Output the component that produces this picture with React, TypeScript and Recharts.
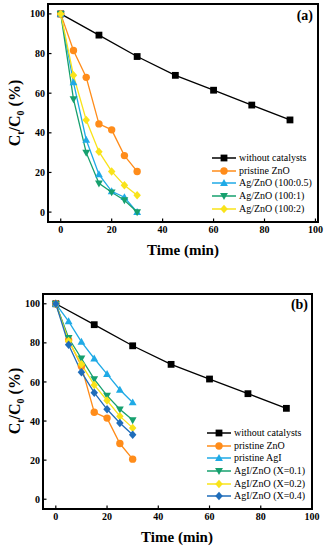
import React from "react";
import { LineChart, Line, XAxis, YAxis, ReferenceArea } from "recharts";

// time axes (min)
const TIME_LONG = [0, 15, 30, 45, 60, 75, 90];
const TIME_SHORT = [0, 5, 10, 15, 20, 25, 30];

// Ct/C0 (%) values
const NO_CATALYST = [100, 89.3, 78.5, 69, 61.5, 54, 46.5];
const PRISTINE_ZNO = [100, 81.5, 68, 44.5, 41.5, 28.5, 20.5];
const AG_ZNO_05 = [100, 65.5, 36.5, 19, 10.5, 7.5, 0];
const AG_ZNO_1 = [100, 57, 30, 14.5, 10, 6, 0];
const AG_ZNO_2 = [100, 69, 46.5, 30.5, 20.5, 13.5, 8.5];
const PRISTINE_AGI = [100, 91, 80.5, 72, 64, 56, 49.5];
const AGI_ZNO_01 = [100, 82.5, 72, 61.5, 53, 46, 40.5];
const AGI_ZNO_02 = [100, 81, 69, 58.5, 50.5, 42.5, 36.5];
const AGI_ZNO_04 = [100, 79, 65, 54.5, 46, 39, 33];

const X_TICKS = [0, 20, 40, 60, 80, 100];
const Y_TICKS = [0, 20, 40, 60, 80, 100];
const Y_DOMAIN: [number, number] = [-5, 105];

const BLACK = "#000000";
const ORANGE = "#FF8C1A";
const CYAN = "#1FAAE6";
const GREEN = "#16A06E";
const YELLOW = "#F9E31A";
const BLUE = "#1F6DBA";

const FONT = "'Liberation Serif', 'Times New Roman', serif";
const TICK_MARGIN_X = 4;
const TICK_MARGIN_Y = 3;

type Shape = "square" | "circle" | "up" | "down" | "diamond";

interface Series {
  name: string;
  color: string;
  shape: Shape;
  times: number[];
  values: number[];
}

const SERIES_A: Series[] = [
  { name: "without catalysts", color: BLACK, shape: "square", times: TIME_LONG, values: NO_CATALYST },
  { name: "pristine ZnO", color: ORANGE, shape: "circle", times: TIME_SHORT, values: PRISTINE_ZNO },
  { name: "Ag/ZnO (100:0.5)", color: CYAN, shape: "up", times: TIME_SHORT, values: AG_ZNO_05 },
  { name: "Ag/ZnO (100:1)", color: GREEN, shape: "down", times: TIME_SHORT, values: AG_ZNO_1 },
  { name: "Ag/ZnO (100:2)", color: YELLOW, shape: "diamond", times: TIME_SHORT, values: AG_ZNO_2 },
];

const SERIES_B: Series[] = [
  { name: "without catalysts", color: BLACK, shape: "square", times: TIME_LONG, values: NO_CATALYST },
  { name: "pristine ZnO", color: ORANGE, shape: "circle", times: TIME_SHORT, values: PRISTINE_ZNO },
  { name: "pristine AgI", color: CYAN, shape: "up", times: TIME_SHORT, values: PRISTINE_AGI },
  { name: "AgI/ZnO (X=0.1)", color: GREEN, shape: "down", times: TIME_SHORT, values: AGI_ZNO_01 },
  { name: "AgI/ZnO (X=0.2)", color: YELLOW, shape: "diamond", times: TIME_SHORT, values: AGI_ZNO_02 },
  { name: "AgI/ZnO (X=0.4)", color: BLUE, shape: "diamond", times: TIME_SHORT, values: AGI_ZNO_04 },
];

function Marker({ shape, cx, cy, color }: { shape: Shape; cx: number; cy: number; color: string }) {
  const s = 3.4;
  switch (shape) {
    case "square":
      return <rect x={cx - s} y={cy - s} width={2 * s} height={2 * s} fill={color} />;
    case "circle":
      return <circle cx={cx} cy={cy} r={s + 0.3} fill={color} />;
    case "up":
      return (
        <polygon
          points={`${cx},${cy - s * 1.2} ${cx + s * 1.15},${cy + s * 0.85} ${cx - s * 1.15},${cy + s * 0.85}`}
          fill={color}
        />
      );
    case "down":
      return (
        <polygon
          points={`${cx},${cy + s * 1.2} ${cx + s * 1.15},${cy - s * 0.85} ${cx - s * 1.15},${cy - s * 0.85}`}
          fill={color}
        />
      );
    default:
      return (
        <polygon
          points={`${cx},${cy - s * 1.25} ${cx + s * 1.1},${cy} ${cx},${cy + s * 1.25} ${cx - s * 1.1},${cy}`}
          fill={color}
        />
      );
  }
}

// inward tick mark + bold label
function XTick({ x, y, payload }: any) {
  const axisY = y - TICK_MARGIN_X;
  return (
    <g>
      <line x1={x} x2={x} y1={axisY} y2={axisY - 3.5} stroke="#000" strokeWidth={1.2} />
      <text x={x} y={y} dy="0.71em" textAnchor="middle" fontSize={10} fontWeight="bold" fill="#000" fontFamily={FONT}>
        {payload.value}
      </text>
    </g>
  );
}

function YTick({ x, y, payload }: any) {
  const axisX = x + TICK_MARGIN_Y;
  return (
    <g>
      <line x1={axisX} x2={axisX + 3.5} y1={y} y2={y} stroke="#000" strokeWidth={1.2} />
      <text x={x} y={y} dy="0.355em" textAnchor="end" fontSize={10} fontWeight="bold" fill="#000" fontFamily={FONT}>
        {payload.value}
      </text>
    </g>
  );
}

interface PanelProps {
  series: Series[];
  top: number;
  height: number;
  margin: { top: number; right: number; bottom: number; left: number };
  yAxisWidth: number;
  xAxisHeight: number;
  xDomain: [number, number];
  tag: string;
  tagRight: number;
  tagY: number;
  titleY: number;
  titleX: number;
  ylabelY: number;
  legendLeft: number;
  legendTop: number;
}

function Panel(p: PanelProps) {
  return (
    <>
      <div style={{ position: "absolute", left: 0, top: p.top }}>
        <LineChart width={327} height={p.height} margin={p.margin}>
          <XAxis
            dataKey="x"
            type="number"
            domain={p.xDomain}
            allowDataOverflow
            ticks={X_TICKS}
            interval={0}
            height={p.xAxisHeight}
            tickSize={0}
            tickMargin={TICK_MARGIN_X}
            tickLine={false}
            axisLine={false}
            tick={(t: any) => <XTick {...t} />}
          />
          <YAxis
            type="number"
            domain={Y_DOMAIN}
            allowDataOverflow
            ticks={Y_TICKS}
            interval={0}
            width={p.yAxisWidth}
            tickSize={0}
            tickMargin={TICK_MARGIN_Y}
            tickLine={false}
            axisLine={false}
            tick={(t: any) => <YTick {...t} />}
          />
          {/* plot frame */}
          <ReferenceArea
            x1={p.xDomain[0]}
            x2={p.xDomain[1]}
            y1={Y_DOMAIN[0]}
            y2={Y_DOMAIN[1]}
            fill="none"
            fillOpacity={0}
            stroke="#000"
            strokeWidth={2}
            ifOverflow="visible"
          />
          {p.series.map((s) => (
            <Line
              key={s.name}
              data={s.times.map((t, i) => ({ x: t, y: s.values[i] }))}
              dataKey="y"
              stroke={s.color}
              strokeWidth={1.3}
              isAnimationActive={false}
              dot={(d: any) => (
                <g key={`${s.name}-${d.index}`}>
                  <Marker shape={s.shape} cx={d.cx} cy={d.cy} color={s.color} />
                </g>
              )}
              activeDot={false}
            />
          ))}
        </LineChart>
      </div>

      {/* panel tag */}
      <div
        style={{
          position: "absolute",
          right: 327 - p.tagRight,
          top: p.tagY - 8,
          fontFamily: FONT,
          fontWeight: "bold",
          fontSize: 14,
          lineHeight: "16px",
        }}
      >
        {p.tag}
      </div>

      {/* x title */}
      <div
        style={{
          position: "absolute",
          left: p.titleX - 80,
          width: 160,
          top: p.titleY - 9,
          textAlign: "center",
          fontFamily: FONT,
          fontWeight: "bold",
          fontSize: 15,
          lineHeight: "18px",
        }}
      >
        Time (min)
      </div>

      {/* y title */}
      <div
        style={{
          position: "absolute",
          left: 15 - 60,
          width: 120,
          top: p.ylabelY - 10,
          height: 20,
          transform: "rotate(-90deg)",
          textAlign: "center",
          fontFamily: FONT,
          fontWeight: "bold",
          fontSize: 16,
          lineHeight: "20px",
          whiteSpace: "nowrap",
        }}
      >
        C<sub style={{ fontSize: 10 }}>t</sub>/C<sub style={{ fontSize: 10 }}>0</sub> (%)
      </div>

      {/* legend */}
      <div style={{ position: "absolute", left: p.legendLeft, top: p.legendTop }}>
        {p.series.map((s) => (
          <div key={s.name} style={{ display: "flex", alignItems: "center", height: 12.6 }}>
            <svg width={24} height={12} style={{ display: "block" }}>
              <line x1={0} y1={6} x2={24} y2={6} stroke={s.color} strokeWidth={1.5} />
              <Marker shape={s.shape} cx={12} cy={6} color={s.color} />
            </svg>
            <span style={{ marginLeft: 3, fontFamily: FONT, fontSize: 10, lineHeight: "12px", whiteSpace: "nowrap" }}>
              {s.name}
            </span>
          </div>
        ))}
      </div>
    </>
  );
}

export default function App() {
  return (
    <div style={{ position: "absolute", left: 0, top: 0, width: 327, height: 550, background: "#fff" }}>
      <Panel
        series={SERIES_A}
        top={0}
        height={270}
        margin={{ top: 4, right: 9, bottom: 4, left: 0 }}
        yAxisWidth={48}
        xAxisHeight={44}
        xDomain={[-5, 101]}
        tag="(a)"
        tagRight={313}
        tagY={16}
        titleY={250}
        titleX={183}
        ylabelY={113}
        legendLeft={212}
        legendTop={152}
      />
      <Panel
        series={SERIES_B}
        top={270}
        height={280}
        margin={{ top: 24, right: 15, bottom: 4, left: 0 }}
        yAxisWidth={43}
        xAxisHeight={37}
        xDomain={[-5, 100]}
        tag="(b)"
        tagRight={308}
        tagY={305}
        titleY={537}
        titleX={177}
        ylabelY={401}
        legendLeft={207}
        legendTop={427}
      />
    </div>
  );
}
